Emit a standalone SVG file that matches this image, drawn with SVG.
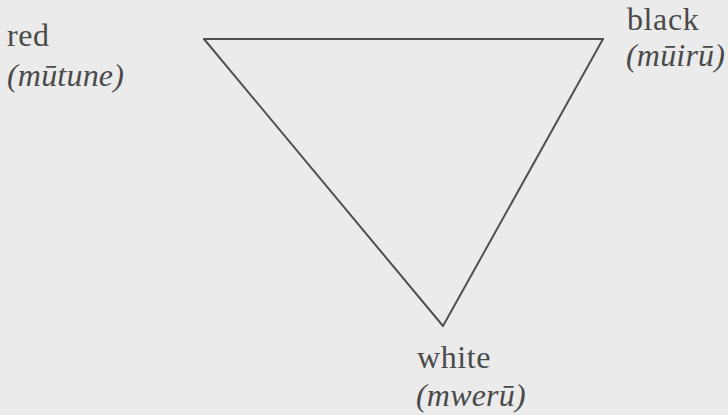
<svg xmlns="http://www.w3.org/2000/svg" width="728" height="415" viewBox="0 0 728 415">
  <style>
    .bg { fill: #ebebeb; }
    .lbl { font-family: "Liberation Serif", "Times New Roman", serif; font-size: 32px; fill: #4a4a4a; letter-spacing: 0.6px; }
    .it { font-style: italic; letter-spacing: 0.2px; }
    .edge { stroke: #505050; stroke-width: 2; fill: none; stroke-linecap: round; stroke-linejoin: round; }
  </style>
  <rect class="bg" x="0" y="0" width="728" height="415"/>
  <g id="connectors">
    <line class="edge" x1="204" y1="39" x2="603" y2="39"/>
    <line class="edge" x1="204" y1="39" x2="443" y2="326"/>
    <line class="edge" x1="603" y1="39" x2="443" y2="326"/>
  </g>
  <g id="node-red">
    <text class="lbl" x="7" y="46">red</text>
    <text class="lbl it" x="7" y="86">(mūtune)</text>
  </g>
  <g id="node-black">
    <text class="lbl" x="627" y="30">black</text>
    <text class="lbl it" x="626" y="66">(mūirū)</text>
  </g>
  <g id="node-white">
    <text class="lbl" x="417" y="368">white</text>
    <text class="lbl it" x="416" y="406">(mwerū)</text>
  </g>
</svg>
